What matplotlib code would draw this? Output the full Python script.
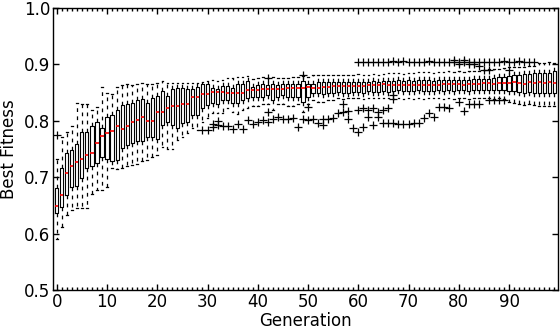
import matplotlib
matplotlib.use("Agg")
import matplotlib.pyplot as plt
from matplotlib.ticker import MultipleLocator

generations = list(range(100))

q1 = [0.636, 0.648, 0.668, 0.683, 0.684, 0.698, 0.716, 0.719, 0.726, 0.736,
      0.733, 0.728, 0.730, 0.752, 0.757, 0.760, 0.765, 0.765, 0.772, 0.771,
      0.767, 0.793, 0.797, 0.793, 0.788, 0.796, 0.798, 0.810, 0.810, 0.822,
      0.828, 0.831, 0.830, 0.837, 0.837, 0.832, 0.831, 0.837, 0.840, 0.843,
      0.843, 0.843, 0.846, 0.837, 0.843, 0.846, 0.843, 0.843, 0.843, 0.834,
      0.843, 0.849, 0.849, 0.848, 0.849, 0.849, 0.851, 0.849, 0.849, 0.851,
      0.851, 0.849, 0.852, 0.851, 0.851, 0.852, 0.851, 0.853, 0.854, 0.852,
      0.852, 0.853, 0.854, 0.852, 0.853, 0.853, 0.854, 0.853, 0.854, 0.853,
      0.855, 0.854, 0.853, 0.854, 0.855, 0.855, 0.855, 0.854, 0.855, 0.854,
      0.853, 0.852, 0.851, 0.850, 0.851, 0.850, 0.850, 0.849, 0.849, 0.850]

median = [0.649, 0.668, 0.708, 0.719, 0.727, 0.733, 0.739, 0.743, 0.761, 0.773,
          0.778, 0.782, 0.790, 0.785, 0.791, 0.797, 0.801, 0.807, 0.799, 0.800,
          0.816, 0.816, 0.822, 0.827, 0.826, 0.829, 0.830, 0.843, 0.842, 0.848,
          0.848, 0.851, 0.851, 0.851, 0.850, 0.850, 0.850, 0.849, 0.855, 0.855,
          0.855, 0.856, 0.857, 0.856, 0.856, 0.857, 0.858, 0.858, 0.858, 0.858,
          0.860, 0.858, 0.858, 0.860, 0.860, 0.861, 0.861, 0.861, 0.862, 0.862,
          0.862, 0.862, 0.863, 0.864, 0.864, 0.865, 0.864, 0.863, 0.864, 0.863,
          0.864, 0.863, 0.864, 0.863, 0.864, 0.864, 0.864, 0.865, 0.866, 0.865,
          0.866, 0.864, 0.865, 0.866, 0.866, 0.867, 0.867, 0.866, 0.867, 0.867,
          0.867, 0.868, 0.867, 0.866, 0.868, 0.867, 0.868, 0.867, 0.868, 0.867]

q3 = [0.680, 0.716, 0.743, 0.748, 0.758, 0.781, 0.781, 0.790, 0.798, 0.787,
      0.806, 0.810, 0.819, 0.828, 0.830, 0.831, 0.836, 0.838, 0.832, 0.840,
      0.844, 0.853, 0.844, 0.856, 0.859, 0.858, 0.856, 0.856, 0.860, 0.866,
      0.866, 0.859, 0.856, 0.862, 0.861, 0.859, 0.866, 0.866, 0.870, 0.860,
      0.864, 0.866, 0.864, 0.866, 0.864, 0.866, 0.866, 0.866, 0.866, 0.870,
      0.866, 0.866, 0.868, 0.869, 0.868, 0.868, 0.869, 0.868, 0.869, 0.868,
      0.869, 0.869, 0.869, 0.870, 0.869, 0.871, 0.871, 0.871, 0.872, 0.871,
      0.872, 0.871, 0.872, 0.872, 0.872, 0.871, 0.873, 0.872, 0.873, 0.872,
      0.873, 0.873, 0.873, 0.874, 0.874, 0.875, 0.875, 0.876, 0.877, 0.878,
      0.880, 0.881, 0.882, 0.883, 0.883, 0.884, 0.884, 0.884, 0.885, 0.888]

whisker_low = [0.590, 0.612, 0.633, 0.642, 0.645, 0.646, 0.646, 0.671, 0.677, 0.677,
               0.683, 0.716, 0.714, 0.716, 0.719, 0.722, 0.724, 0.728, 0.730, 0.736,
               0.740, 0.754, 0.750, 0.750, 0.766, 0.772, 0.778, 0.787, 0.784, 0.798,
               0.805, 0.813, 0.813, 0.813, 0.822, 0.815, 0.812, 0.820, 0.822, 0.826,
               0.826, 0.829, 0.829, 0.819, 0.829, 0.830, 0.826, 0.826, 0.829, 0.815,
               0.829, 0.837, 0.834, 0.834, 0.837, 0.837, 0.840, 0.838, 0.840, 0.840,
               0.840, 0.838, 0.840, 0.840, 0.840, 0.840, 0.840, 0.838, 0.840, 0.838,
               0.840, 0.838, 0.840, 0.838, 0.840, 0.840, 0.840, 0.838, 0.840, 0.838,
               0.840, 0.840, 0.838, 0.840, 0.840, 0.840, 0.840, 0.838, 0.840, 0.838,
               0.834, 0.832, 0.830, 0.828, 0.830, 0.828, 0.826, 0.826, 0.826, 0.826]

whisker_high = [0.733, 0.772, 0.781, 0.790, 0.831, 0.829, 0.829, 0.819, 0.825, 0.860,
                0.849, 0.847, 0.860, 0.863, 0.866, 0.863, 0.866, 0.867, 0.865, 0.865,
                0.867, 0.870, 0.867, 0.867, 0.867, 0.867, 0.867, 0.867, 0.867, 0.868,
                0.870, 0.872, 0.870, 0.872, 0.876, 0.876, 0.878, 0.878, 0.880, 0.874,
                0.876, 0.878, 0.876, 0.878, 0.876, 0.876, 0.876, 0.878, 0.878, 0.880,
                0.878, 0.881, 0.881, 0.882, 0.881, 0.881, 0.882, 0.882, 0.882, 0.882,
                0.883, 0.882, 0.882, 0.883, 0.882, 0.883, 0.884, 0.884, 0.884, 0.883,
                0.884, 0.884, 0.886, 0.886, 0.886, 0.885, 0.887, 0.887, 0.888, 0.887,
                0.888, 0.887, 0.888, 0.889, 0.889, 0.890, 0.891, 0.892, 0.892, 0.893,
                0.895, 0.895, 0.896, 0.896, 0.897, 0.898, 0.903, 0.903, 0.904, 0.903]

flier_gen = [0, 29, 30, 31, 31, 32, 32, 33, 34, 35, 36, 37, 38, 39, 40, 41,
             42, 42, 42, 43, 44, 45, 46, 47, 48, 49, 49, 50, 50, 51, 52, 53, 53,
             54, 55, 56, 57, 57, 58, 58, 59,
             60, 60, 60, 61, 61, 61, 62, 62, 62, 63, 63, 63, 64, 64, 64,
             65, 65, 65, 66, 66, 66, 67, 67, 67, 67, 68, 68, 69, 69, 70, 70,
             71, 71, 72, 72, 73, 73, 74, 74, 75, 75, 76, 76, 77, 77, 78, 78,
             79, 79, 80, 80, 80, 81, 81, 81, 82, 82, 82, 83, 83, 83, 84, 84, 84,
             85, 85, 86, 86, 86, 87, 87, 88, 88, 89, 89, 90, 90,
             91, 92, 93, 94, 95]
flier_val = [0.775, 0.784, 0.784, 0.789, 0.795, 0.793, 0.800, 0.791, 0.790, 0.785,
             0.794, 0.786, 0.801, 0.795, 0.798, 0.801,
             0.797, 0.816, 0.876, 0.803, 0.806, 0.803, 0.803, 0.805, 0.789, 0.804,
             0.881, 0.825, 0.801, 0.803, 0.796, 0.793, 0.804,
             0.804, 0.805, 0.814, 0.829, 0.816, 0.817, 0.804, 0.787,
             0.905, 0.781, 0.819, 0.905, 0.789, 0.822, 0.905, 0.819, 0.807,
             0.905, 0.792, 0.822, 0.905, 0.816, 0.807,
             0.905, 0.819, 0.796, 0.905, 0.822, 0.796, 0.906, 0.796, 0.846, 0.838,
             0.905, 0.795, 0.906, 0.795, 0.905, 0.795,
             0.904, 0.796, 0.905, 0.796, 0.905, 0.805, 0.906, 0.813, 0.904, 0.807,
             0.905, 0.824, 0.904, 0.824, 0.905, 0.822,
             0.908, 0.905, 0.904, 0.900, 0.834, 0.908, 0.904, 0.818,
             0.905, 0.900, 0.829, 0.905, 0.829, 0.900, 0.905, 0.897, 0.829,
             0.905, 0.890, 0.905, 0.890, 0.837, 0.905, 0.837, 0.905, 0.837,
             0.906, 0.836, 0.905, 0.890,
             0.905, 0.906, 0.905, 0.905, 0.905]

x_ticks = [0, 10, 20, 30, 40, 50, 60, 70, 80, 90]
y_ticks = [0.5, 0.6, 0.7, 0.8, 0.9, 1.0]

stats = []
for i, g in enumerate(generations):
    fl = [v for gg, v in zip(flier_gen, flier_val) if gg == g]
    stats.append(dict(med=median[i], q1=q1[i], q3=q3[i],
                      whislo=whisker_low[i], whishi=whisker_high[i],
                      fliers=fl))

plt.rcParams['font.family'] = ['DejaVu Sans']
fig = plt.figure(figsize=(5.6, 3.32), dpi=100)
ax = fig.add_axes([53/560, 1 - 290/332, (558 - 53)/560, (290 - 8)/332])

ax.bxp(stats, positions=generations, widths=0.62, showfliers=True,
       boxprops=dict(color='black', linewidth=0.8),
       medianprops=dict(color='red', linewidth=1.2),
       whiskerprops=dict(color='black', linewidth=0.9, linestyle=(0, (3, 3.5))),
       capprops=dict(color='black', linewidth=0.9),
       flierprops=dict(marker='+', markeredgecolor='black', markersize=6,
                       markeredgewidth=0.9, linestyle='none'),
       manage_ticks=False)

ax.set_xlim(-0.75, 99.75)
ax.set_ylim(0.5, 1.0)
ax.set_xticks(x_ticks)
ax.set_xticklabels([str(t) for t in x_ticks])
ax.xaxis.set_minor_locator(MultipleLocator(1))
ax.set_yticks(y_ticks)
ax.set_yticklabels([f"{t:.1f}" for t in y_ticks])
ax.tick_params(axis='both', which='both', direction='in', top=True, right=True,
               labelsize=12, width=1, pad=2)
ax.tick_params(axis='both', which='major', length=4)
ax.tick_params(axis='x', which='minor', length=2)
ax.set_xlabel('Generation', fontsize=12, labelpad=1)
ax.set_ylabel('Best Fitness', fontsize=12, labelpad=4)
for s in ax.spines.values():
    s.set_linewidth(1.0)

fig.savefig('out.png', dpi=100)
